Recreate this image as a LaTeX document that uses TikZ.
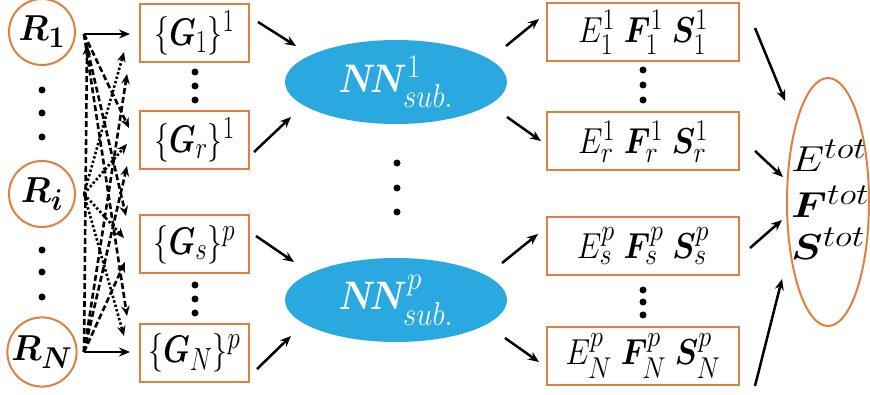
\documentclass[tikz,border=0pt]{standalone}
\usepackage{amsmath,bm}
\usetikzlibrary{arrows.meta,shapes.geometric}
\definecolor{boxor}{HTML}{E0803F}
\definecolor{nnblue}{HTML}{2AA8E0}
\newcommand{\rtxt}[1]{\scalebox{1.38}[1.45]{$#1$}}
\newcommand{\gtxt}[1]{\scalebox{1.2}[1.55]{$#1$}}
\newcommand{\etxt}[1]{\scalebox{1.26}[1.45]{$#1$}}
\newcommand{\ntxt}[1]{\scalebox{1.4}[1.6]{$#1$}}
\newcommand{\ttxt}[1]{\scalebox{1.7}[1.45]{$#1$}}
\begin{document}
\begin{tikzpicture}[x=1pt,y=-1pt,
  rcirc/.style={circle,draw=boxor,line width=2pt,minimum size=66pt,inner sep=0pt,font=\Huge},
  gbox/.style={rectangle,draw=boxor,line width=2pt,minimum width=109pt,minimum height=58pt,inner sep=0pt,font=\Huge},
  ebox/.style={rectangle,draw=boxor,line width=2pt,minimum width=192pt,minimum height=58pt,inner sep=0pt,font=\Huge},
  nnell/.style={ellipse,fill=nnblue,minimum width=222pt,minimum height=84pt,inner sep=0pt,text=white,font=\Huge},
  totell/.style={ellipse,draw=boxor,line width=2pt,minimum width=82pt,minimum height=248pt,inner sep=0pt},
  arr/.style={-{Stealth[length=11pt,width=9pt]},line width=2.5pt},
  darr/.style={-{Stealth[length=10pt,width=8.5pt]},line width=2.6pt,dash pattern=on 6pt off 3pt},
  oarr/.style={-{Stealth[length=10pt,width=8.5pt]},line width=2.6pt,dash pattern=on 2.4pt off 2.2pt},
  dotc/.style={circle,fill=black,inner sep=0pt,minimum size=7pt}
]
\useasboundingbox (0,0) rectangle (870,395);
% R circles
\node[rcirc] (r1) at (42,32) {\rtxt{\bm{R}_{\bm{1}}}};
\node[rcirc] (ri) at (42,194) {\rtxt{\bm{R}_{\bm{i}}}};
\node[rcirc] (rn) at (42,352) {\rtxt{\bm{R}_{\bm{N}}}};
% G boxes
\node[gbox] (g1) at (194.5,33) {\gtxt{\{\bm{G}_1\}^1}};
\node[gbox] (gr) at (194.5,140) {\gtxt{\{\bm{G}_r\}^1}};
\node[gbox] (gs) at (194.5,244.5) {\gtxt{\{\bm{G}_s\}^p}};
\node[gbox] (gn) at (194.5,352.5) {\gtxt{\{\bm{G}_N\}^p}};
% NN ellipses
\node[nnell] (nn1) at (396,82) {\ntxt{\bm{N\!N}^1_{sub.}}};
\node[nnell] (nnp) at (396,300) {\ntxt{\bm{N\!N}^p_{sub.}}};
% E boxes
\node[ebox] (e1) at (643,32) {\etxt{E_1^1\;\bm{F}_1^1\;\bm{S}_1^1}};
\node[ebox] (er) at (643,141.5) {\etxt{E_r^1\;\bm{F}_r^1\;\bm{S}_r^1}};
\node[ebox] (es) at (643,246) {\etxt{E_s^p\;\bm{F}_s^p\;\bm{S}_s^p}};
\node[ebox] (en) at (643,356) {\etxt{E_N^p\;\bm{F}_N^p\;\bm{S}_N^p}};
% total ellipse
\node[totell] (tot) at (828,202) {};
\node[anchor=west,inner sep=0pt,font=\Huge] (tote) at (791,156) {\ttxt{E^{tot}}};
\node[anchor=west,inner sep=0pt,font=\Huge] (totf) at (791,202) {\ttxt{\bm{F}^{tot}}};
\node[anchor=west,inner sep=0pt,font=\Huge] (tots) at (791,244) {\ttxt{\bm{S}^{tot}}};
% dots
\foreach \y in {90,113,137,250,272,297} \node[dotc] at (42,\y) {};
\foreach \y in {72,86,100,285,299,313} \node[dotc] at (195,\y) {};
\foreach \y in {163,188,212} \node[dotc] at (397,\y) {};
\foreach \y in {70,85,100,290,302,315} \node[dotc] at (643,\y) {};
% left tangle
\coordinate (r1o) at (84,34);
\coordinate (rio) at (84,194);
\coordinate (rno) at (84,352);
\draw[arr] (r1o) -- (130,34);
\draw[arr] (rno) -- (130,352);
\draw[darr] (r1o) -- (129,128);
\draw[darr] (r1o) -- (126,216);
\draw[darr] (r1o) -- (127,316);
\draw[darr] (rno) -- (87,45);
\draw[darr] (rno) -- (127,74);
\draw[darr] (rno) -- (127,166);
\draw[darr] (rno) -- (125,262);
\draw[oarr] (rio) -- (124,52);
\draw[oarr] (rio) -- (127,144);
\draw[oarr] (rio) -- (124,238);
\draw[oarr] (rio) -- (124,336);
% G -> NN
\coordinate (a1s) at (258,22); \coordinate (a1e) at (296,46);
\coordinate (a2s) at (254,152); \coordinate (a2e) at (291,117);
\coordinate (a3s) at (256,236); \coordinate (a3e) at (294,262);
\coordinate (a4s) at (257,369); \coordinate (a4e) at (291,336);
\draw[arr] (a1s) -- (a1e);
\draw[arr] (a2s) -- (a2e);
\draw[arr] (a3s) -- (a3e);
\draw[arr] (a4s) -- (a4e);
% NN -> E
\coordinate (b1s) at (506,46); \coordinate (b1e) at (539,19);
\coordinate (b2s) at (507,117); \coordinate (b2e) at (541,141);
\coordinate (b3s) at (502,263); \coordinate (b3e) at (538,234);
\coordinate (b4s) at (505,338); \coordinate (b4e) at (539,362);
\draw[arr] (b1s) -- (b1e);
\draw[arr] (b2s) -- (b2e);
\draw[arr] (b3s) -- (b3e);
\draw[arr] (b4s) -- (b4e);
% E -> tot
\coordinate (c1s) at (755,28); \coordinate (c1e) at (785,101);
\coordinate (c2s) at (755,151); \coordinate (c2e) at (783,177);
\coordinate (c3s) at (750,248); \coordinate (c3e) at (782,220);
\coordinate (c4s) at (755,386); \coordinate (c4e) at (782,279);
\draw[arr] (c1s) -- (c1e);
\draw[arr] (c2s) -- (c2e);
\draw[arr] (c3s) -- (c3e);
\draw[arr] (c4s) -- (c4e);
\end{tikzpicture}
\end{document}
